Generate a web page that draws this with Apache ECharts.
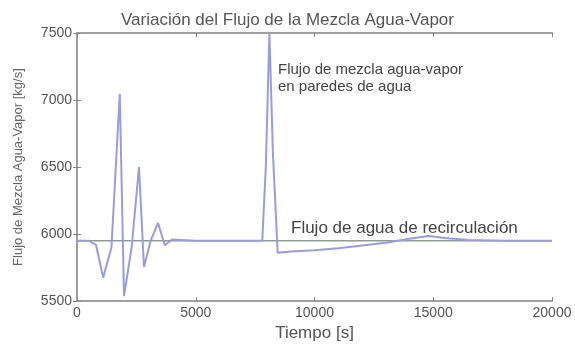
<!DOCTYPE html>
<html><head><meta charset="utf-8">
<script src="https://cdn.jsdelivr.net/npm/echarts@6/dist/echarts.min.js"></script>
<style>html,body{margin:0;padding:0;background:#fff}#c{width:575px;height:347px}</style>
</head><body><div id="c"></div>
<script>
const tiempo = [0, 500, 800, 1100, 1450, 1800, 1980, 2300, 2610, 2820, 3100, 3410, 3700, 4000, 5000, 6000, 7000, 7800, 7950, 8100, 8250, 8450, 9000, 10000, 11000, 12000, 13000, 14000, 14800, 15500, 16500, 18000, 20000];
const flujoMezcla = [5950, 5950, 5920, 5675, 5900, 7047, 5537, 5900, 6500, 5755, 5950, 6084, 5916, 5960, 5950, 5950, 5950, 5950, 6500, 7500, 6600, 5860, 5870, 5880, 5895, 5915, 5935, 5965, 5985, 5970, 5955, 5950, 5950];
const tiempoRecirc = [0, 20000];
const flujoRecirc = [5950, 5950];
const xTicks = [0, 5000, 10000, 15000, 20000];
const yTicks = [5500, 6000, 6500, 7000, 7500];

const chart = echarts.init(document.getElementById('c'));
const axisCol = '#a0a0a0', txt = '#555';
const font = 'Liberation Sans';
const fmt = v => String(v);
chart.setOption({
  animation: false,
  title: { text: 'Variación del Flujo de la Mezcla Agua-Vapor', left: 'center', top: 7,
    textStyle: { fontFamily: font, fontSize: 17, fontWeight: 'normal', color: txt } },
  grid: { left: 77, right: 23, top: 33, bottom: 40 },
  xAxis: [{
    type: 'value', min: xTicks[0], max: xTicks[xTicks.length - 1], interval: xTicks[1] - xTicks[0],
    name: 'Tiempo [s]', nameLocation: 'middle', nameGap: 19,
    nameTextStyle: { fontFamily: font, fontSize: 17, color: txt },
    axisLine: { lineStyle: { color: axisCol, width: 2 } },
    axisTick: { inside: true, length: 4, lineStyle: { color: '#888' } },
    axisLabel: { fontFamily: font, fontSize: 14, color: txt, margin: 5, formatter: fmt },
    splitLine: { show: false }
  }, {
    type: 'value', position: 'top', min: xTicks[0], max: xTicks[xTicks.length - 1], interval: xTicks[1] - xTicks[0],
    axisLine: { show: true, lineStyle: { color: axisCol, width: 2 } },
    axisTick: { inside: true, length: 4, lineStyle: { color: '#888' } },
    axisLabel: { show: false }, splitLine: { show: false }
  }],
  yAxis: [{
    type: 'value', min: yTicks[0], max: yTicks[yTicks.length - 1], interval: yTicks[1] - yTicks[0],
    name: 'Flujo de Mezcla Agua-Vapor [kg/s]', nameLocation: 'middle', nameGap: 52,
    nameTextStyle: { fontFamily: font, fontSize: 13, color: '#666' },
    axisLine: { show: true, lineStyle: { color: axisCol, width: 2 } },
    axisTick: { show: true, inside: true, length: 4, lineStyle: { color: '#888' } },
    axisLabel: { fontFamily: font, fontSize: 14, color: txt, margin: 5, formatter: fmt },
    splitLine: { show: false }
  }, {
    type: 'value', position: 'right', min: yTicks[0], max: yTicks[yTicks.length - 1], interval: yTicks[1] - yTicks[0],
    axisLine: { show: true, lineStyle: { color: axisCol, width: 2 } },
    axisTick: { show: true, inside: true, length: 4, lineStyle: { color: '#888' } },
    axisLabel: { show: false }, splitLine: { show: false }
  }],
  series: [{
    type: 'line', name: 'recirc', symbol: 'none', z: 2,
    data: tiempoRecirc.map((t, i) => [t, flujoRecirc[i]]),
    lineStyle: { color: '#8f9c8f', width: 1.5 }
  }, {
    type: 'line', name: 'mezcla', symbol: 'none', z: 3,
    data: tiempo.map((t, i) => [t, flujoMezcla[i]]),
    lineStyle: { color: '#9b9be0', width: 2 }
  }],
  graphic: [
    { type: 'text', left: 278, top: 61, style: { text: 'Flujo de mezcla agua-vapor\nen paredes de agua', lineHeight: 17, font: '15px "Liberation Sans"', fill: '#444' } },
    { type: 'text', left: 291, top: 220, style: { text: 'Flujo de agua de recirculación', font: '17px "Liberation Sans"', fill: '#444' } }
  ]
});
</script></body></html>
